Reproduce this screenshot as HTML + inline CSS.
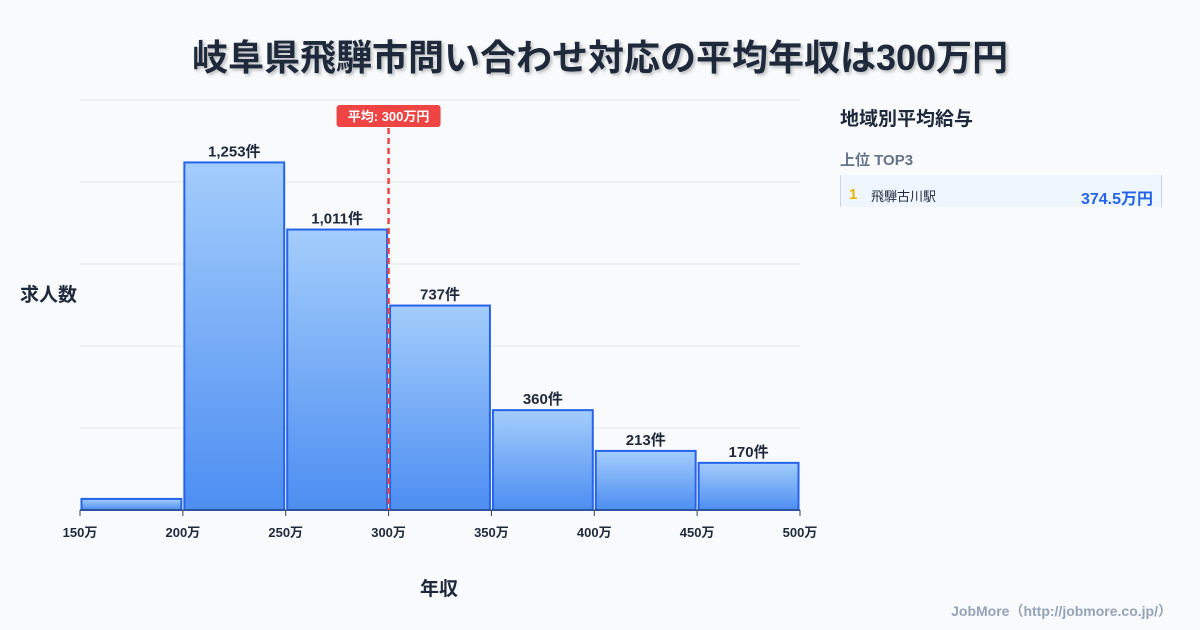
<!DOCTYPE html>
<html><head><meta charset="utf-8"><style>
body{margin:0;width:1200px;height:630px;background:#f8fafc;font-family:"Liberation Sans","Noto Sans CJK JP",sans-serif;overflow:hidden;position:relative}
.t{position:absolute;white-space:nowrap}
</style></head><body>
<div class="t" style="left:0;width:1200px;top:29px;text-align:center;font-size:36px;font-weight:bold;color:#1e293b;text-shadow:2px 2px 3px rgba(0,0,0,0.25)">岐阜県飛騨市問い合わせ対応の平均年収は300万円</div>
<svg id="c" width="1200" height="630" style="position:absolute;left:0;top:0">
<defs><linearGradient id="g" x1="0" y1="0" x2="0" y2="1"><stop offset="0" stop-color="#a3cdfb"/><stop offset="1" stop-color="#4d8ef2"/></linearGradient></defs>
</svg>
<div class="t" style="left:20px;top:280px;font-size:19px;font-weight:bold;color:#1e293b">求人数</div>
<div class="t" style="left:420px;top:574px;font-size:19px;font-weight:bold;color:#1e293b">年収</div>
<div class="t" style="left:840px;top:104px;font-size:19px;font-weight:bold;color:#1e293b">地域別平均給与</div>
<div class="t" style="left:840px;top:149px;font-size:15px;font-weight:bold;color:#64748b">上位 TOP3</div>
<div style="position:absolute;left:840px;top:175px;width:320px;height:32px;background:#eff6ff;border-left:1px solid #cbd5e1;border-right:1px solid #cbd5e1">
<span class="t" style="left:8px;top:11px;font-size:15px;font-weight:bold;color:#eab308">1</span>
<span class="t" style="left:30px;top:11px;font-size:13px;color:#1e293b">飛騨古川駅</span>
<span class="t" style="right:8px;top:10px;font-size:16px;font-weight:bold;color:#2563eb">374.5万円</span>
</div>
<div class="t" style="right:28px;top:601px;font-size:14px;font-weight:bold;color:#94a3b8">JobMore（http://jobmore.co.jp/）</div>
<script>
const binStarts=[150,200,250,300,350,400,450];
const counts=[40,1253,1011,737,360,213,170];
const labels=["","1,253件","1,011件","737件","360件","213件","170件"];
const xTicks=[150,200,250,300,350,400,450,500];
const avg=300;
const yMax=1478;
const NS="http://www.w3.org/2000/svg";
const svg=document.getElementById('c');
const X=v=>80+(v-150)*720/350, Y=v=>510-v*410/yMax;
function mk(t,a){const e=document.createElementNS(NS,t);for(const k in a)e.setAttribute(k,a[k]);svg.appendChild(e);return e;}
for(let i=1;i<=5;i++){const l=mk('line',{x1:80,x2:800,y1:Y(yMax*i/5),y2:Y(yMax*i/5),stroke:'#e5e7eb'});

}
binStarts.forEach((s,i)=>{const x0=X(s)+1.5,x1=X(s+50)-1.5;
const r=mk('rect',{x:x0,y:Y(counts[i]),width:x1-x0,height:510-Y(counts[i]),fill:'url(#g)',stroke:'#2563eb','stroke-width':2});


if(labels[i]){const t=mk('text',{x:(x0+x1)/2,y:Y(counts[i])-6,'text-anchor':'middle','font-size':15,'font-weight':'bold',fill:'#1e293b'});t.textContent=labels[i];

}});
const ax=mk('line',{x1:80,x2:800,y1:510,y2:510,stroke:'#334155'});


xTicks.forEach(v=>{mk('line',{x1:X(v),x2:X(v),y1:510,y2:516,stroke:'#334155'});
const t=mk('text',{x:X(v),y:537,'text-anchor':'middle','font-size':13,'font-weight':'bold',fill:'#1e293b'});t.textContent=v+'万';

});
const al=mk('line',{x1:X(avg),x2:X(avg),y1:128,y2:510,stroke:'#ef4444','stroke-width':2.5,'stroke-dasharray':'6,4'});


const ab=mk('rect',{x:X(avg)-52,y:105,width:104,height:22,rx:3,fill:'#ef4444'});


const at=mk('text',{x:X(avg),y:121,'text-anchor':'middle','font-size':13,'font-weight':'bold',fill:'#fff'});at.textContent='平均: '+avg+'万円';


</script>
</body></html>
